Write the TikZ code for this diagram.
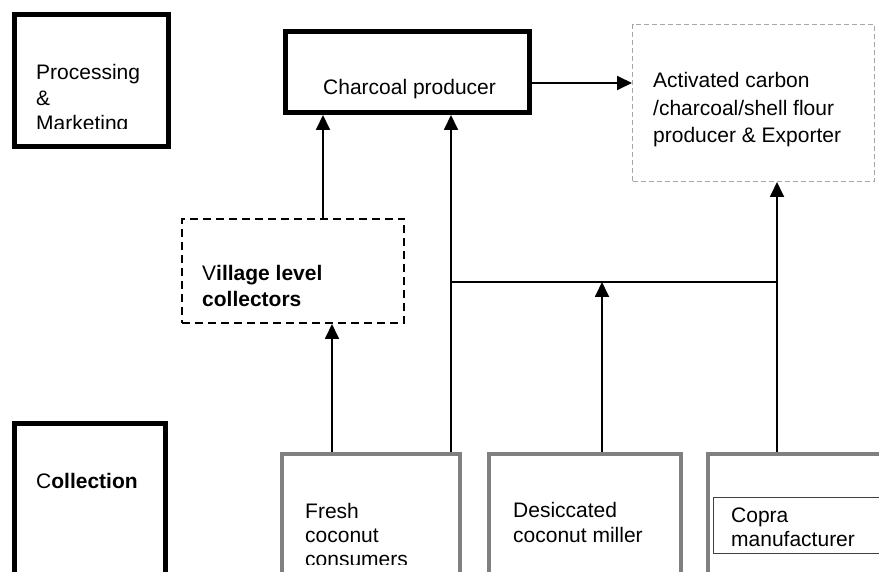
\documentclass[tikz,border=0pt]{standalone}
\usepackage{fontspec}
\setmainfont{Liberation Sans}
\usetikzlibrary{arrows.meta}
\definecolor{boxgray}{HTML}{808080}
\definecolor{dashgray}{HTML}{A6A6A6}
\definecolor{innergray}{HTML}{404040}
\begin{document}
\begin{tikzpicture}[x=1pt,y=-1pt,
  thickbox/.style={draw=black,line width=5pt,inner sep=0pt},
  graybox/.style={draw=boxgray,line width=4.5pt,inner sep=0pt},
  dashbox/.style={draw=dashgray,line width=1.2pt,dash pattern=on 5pt off 3pt,inner sep=0pt},
  blackdash/.style={draw=black,line width=1.8pt,dash pattern=on 8pt off 5pt,inner sep=0pt},
  thinbox/.style={draw=innergray,line width=1pt,inner sep=0pt},
  txt/.style={anchor=base west,inner sep=0pt,font=\fontsize{21}{25}\selectfont},
  conn/.style={line width=1.8pt},
  arr/.style={conn,-{Triangle[length=15pt,width=14pt]}}]
\useasboundingbox[fill=white] (0,0) rectangle (879,572);

% boxes
\node[thickbox,minimum width=154pt,minimum height=132pt] (proc) at (91.5,80.5) {};
\node[thickbox,minimum width=244pt,minimum height=81pt] (charcoal) at (407.5,72) {};
\node[dashbox,minimum width=241.8pt,minimum height=156.8pt] (activated) at (753.5,103) {};
\node[blackdash,minimum width=222.2pt,minimum height=104.2pt] (village) at (293,271) {};
\node[thickbox,minimum width=151pt,minimum height=200pt] (coll) at (90,523.5) {};
\node[graybox,minimum width=178pt,minimum height=200pt] (fresh) at (371,554) {};
\node[graybox,minimum width=192pt,minimum height=200pt] (desic) at (585,554) {};
\node[graybox,minimum width=200pt,minimum height=200pt] (copra) at (808,554) {};
\node[thinbox,minimum width=200pt,minimum height=56pt] (coprain) at (813.5,525.5) {};

% texts
\node[txt] (p1) at (36,80) {Processing};
\node[txt] (p2) at (36,106) {\&};
\begin{scope}
\clip (0,0) rectangle (879,128.5);
\node[txt] (p3) at (36,131) {Marketing};
\end{scope}
\node[txt] (c1) at (323,95) {Charcoal producer};
\node[txt] (a1) at (653,88) {Activated carbon};
\node[txt] (a2) at (653,116) {/charcoal/shell flour};
\node[txt] (a3) at (653,143) {producer \& Exporter};
\node[txt] (v1) at (202,281) {V\textbf{illage level}};
\node[txt] (v2) at (202,307) {\textbf{collectors}};
\node[txt] (k1) at (36,488) {C\textbf{ollection}};
\node[txt] (f1) at (305,518) {Fresh};
\node[txt] (f2) at (305,542) {coconut};
\begin{scope}
\clip (0,0) rectangle (879,564);
\node[txt] (f3) at (305,566) {consumers};
\end{scope}
\node[txt] (d1) at (513,517) {Desiccated};
\node[txt] (d2) at (513,542) {coconut miller};
\node[txt] (m1) at (731,522) {Copra};
\node[txt] (m2) at (731,546) {manufacturer};

% connectors
\coordinate (xa) at (323,0);
\coordinate (xb) at (332,0);
\coordinate (xd) at (602,0);
\coordinate (ya) at (0,83);
\coordinate (jl) at (451,282);
\coordinate (jr) at (777,282);
\draw[arr] (village.north -| xa) -- (charcoal.south -| xa);
\draw[arr] (fresh.north -| xb) -- (village.south -| xb);
\draw[arr] (fresh.north -| jl) -- (charcoal.south -| jl);
\draw[conn] (jl) -- (jr);
\draw[arr] (desic.north -| xd) -- (jl -| xd);
\draw[arr] (copra.north -| jr) -- (activated.south -| jr);
\draw[arr] (charcoal.east |- ya) -- (activated.west |- ya);
\end{tikzpicture}
\end{document}
